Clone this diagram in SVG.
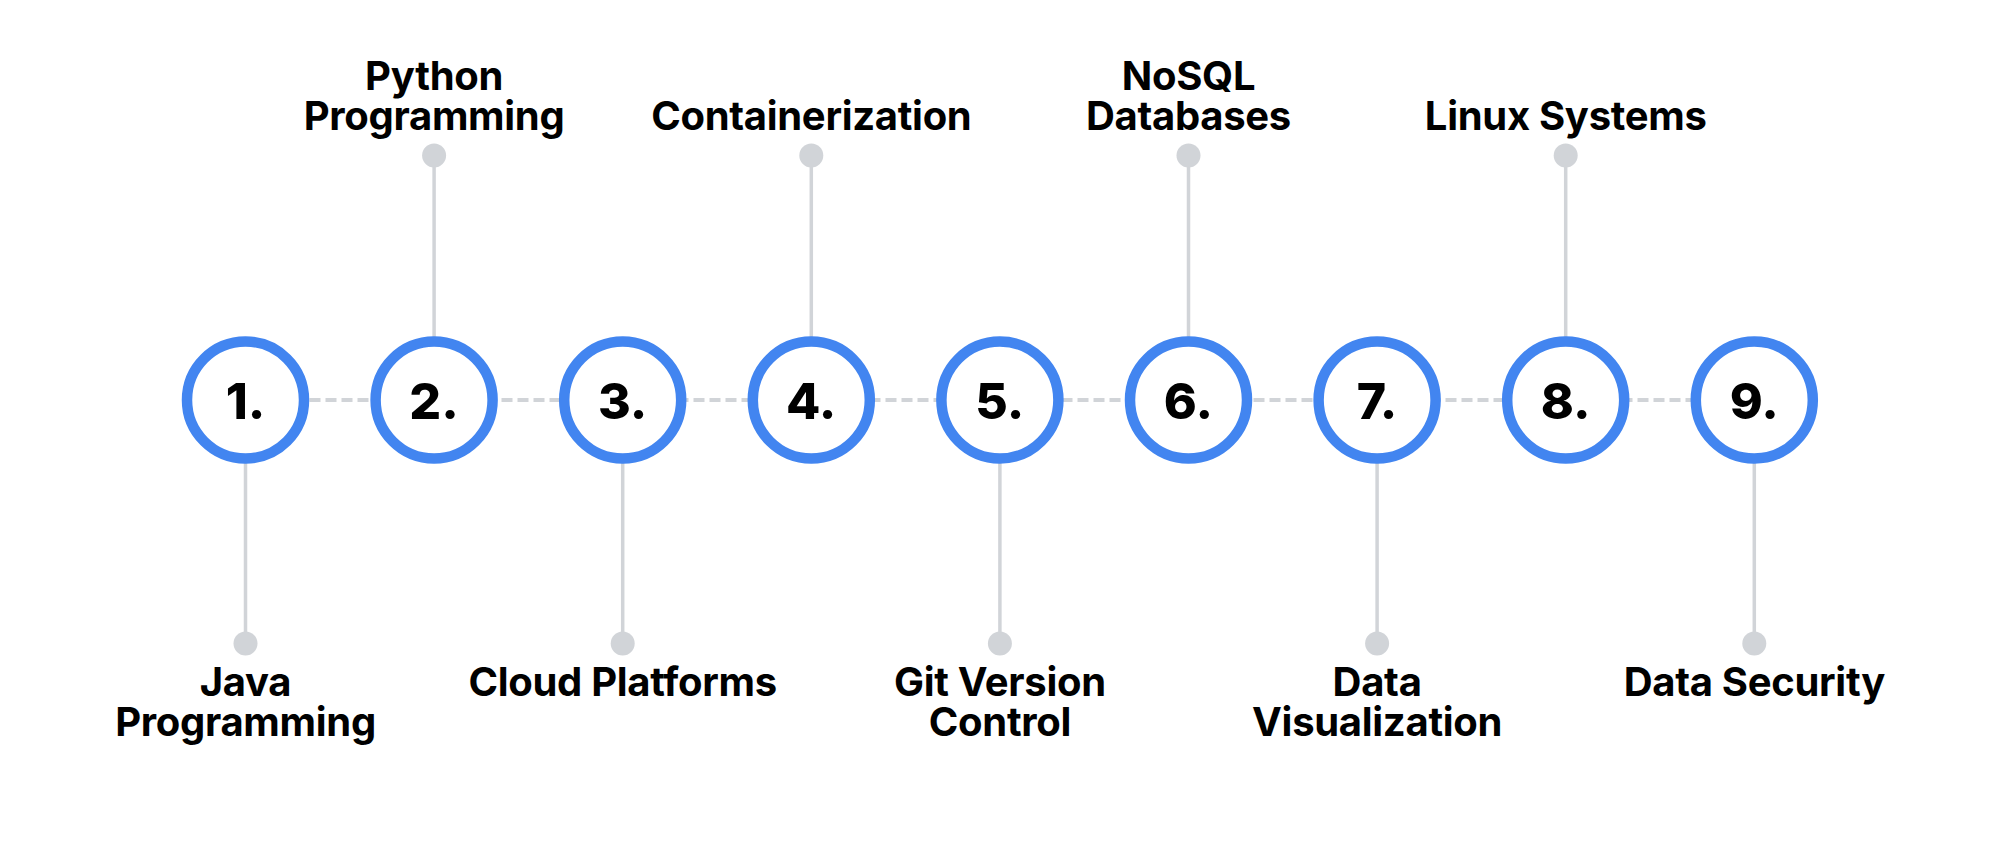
<svg xmlns="http://www.w3.org/2000/svg" width="2000" height="848" viewBox="0 0 2000 848">
<style>
.ring{fill:#fff;stroke:#4285f0;stroke-width:10.5}
.num{font-family:Inter,"Liberation Sans",sans-serif;font-weight:800;font-size:50px;fill:#000;text-anchor:middle}
.lbl{font-family:Inter,"Liberation Sans",sans-serif;font-weight:700;font-size:40px;fill:#000;text-anchor:middle;letter-spacing:-0.3px}
.stem{stroke:#d1d4d8;stroke-width:3.5;fill:none}
.dot{fill:#d1d4d8}
.dash{stroke:#d1d4d8;stroke-width:4;stroke-dasharray:11 5;fill:none}
</style>
<rect width="2000" height="848" fill="#fff"/>
<g id="connectors">
<line class="dash" x1="245.5" y1="400" x2="1754.3" y2="400"/>
<line class="stem" x1="245.5" y1="463" x2="245.5" y2="643"/><circle class="dot" cx="245.5" cy="643.5" r="12"/>
<line class="stem" x1="434.1" y1="156" x2="434.1" y2="337"/><circle class="dot" cx="434.1" cy="155.5" r="12"/>
<line class="stem" x1="622.7" y1="463" x2="622.7" y2="643"/><circle class="dot" cx="622.7" cy="643.5" r="12"/>
<line class="stem" x1="811.3" y1="156" x2="811.3" y2="337"/><circle class="dot" cx="811.3" cy="155.5" r="12"/>
<line class="stem" x1="999.9" y1="463" x2="999.9" y2="643"/><circle class="dot" cx="999.9" cy="643.5" r="12"/>
<line class="stem" x1="1188.5" y1="156" x2="1188.5" y2="337"/><circle class="dot" cx="1188.5" cy="155.5" r="12"/>
<line class="stem" x1="1377.1" y1="463" x2="1377.1" y2="643"/><circle class="dot" cx="1377.1" cy="643.5" r="12"/>
<line class="stem" x1="1565.7" y1="156" x2="1565.7" y2="337"/><circle class="dot" cx="1565.7" cy="155.5" r="12"/>
<line class="stem" x1="1754.3" y1="463" x2="1754.3" y2="643"/><circle class="dot" cx="1754.3" cy="643.5" r="12"/>
</g>
<g id="node1"><circle class="ring" cx="245.5" cy="400" r="58.5"/><text class="num" x="245.5" y="419">1.</text>
<text class="lbl" x="245.5" y="696">Java</text><text class="lbl" x="245.5" y="736">Programming</text></g>
<g id="node2"><circle class="ring" cx="434.1" cy="400" r="58.5"/><text class="num" x="434.1" y="419">2.</text>
<text class="lbl" x="434.1" y="90">Python</text><text class="lbl" x="434.1" y="130">Programming</text></g>
<g id="node3"><circle class="ring" cx="622.7" cy="400" r="58.5"/><text class="num" x="622.7" y="419">3.</text>
<text class="lbl" x="622.7" y="696">Cloud Platforms</text></g>
<g id="node4"><circle class="ring" cx="811.3" cy="400" r="58.5"/><text class="num" x="811.3" y="419">4.</text>
<text class="lbl" x="811.3" y="130">Containerization</text></g>
<g id="node5"><circle class="ring" cx="999.9" cy="400" r="58.5"/><text class="num" x="999.9" y="419">5.</text>
<text class="lbl" x="999.9" y="696">Git Version</text><text class="lbl" x="999.9" y="736">Control</text></g>
<g id="node6"><circle class="ring" cx="1188.5" cy="400" r="58.5"/><text class="num" x="1188.5" y="419">6.</text>
<text class="lbl" x="1188.5" y="90">NoSQL</text><text class="lbl" x="1188.5" y="130">Databases</text></g>
<g id="node7"><circle class="ring" cx="1377.1" cy="400" r="58.5"/><text class="num" x="1377.1" y="419">7.</text>
<text class="lbl" x="1377.1" y="696">Data</text><text class="lbl" x="1377.1" y="736">Visualization</text></g>
<g id="node8"><circle class="ring" cx="1565.7" cy="400" r="58.5"/><text class="num" x="1565.7" y="419">8.</text>
<text class="lbl" x="1565.7" y="130">Linux Systems</text></g>
<g id="node9"><circle class="ring" cx="1754.3" cy="400" r="58.5"/><text class="num" x="1754.3" y="419">9.</text>
<text class="lbl" x="1754.3" y="696">Data Security</text></g>
</svg>
